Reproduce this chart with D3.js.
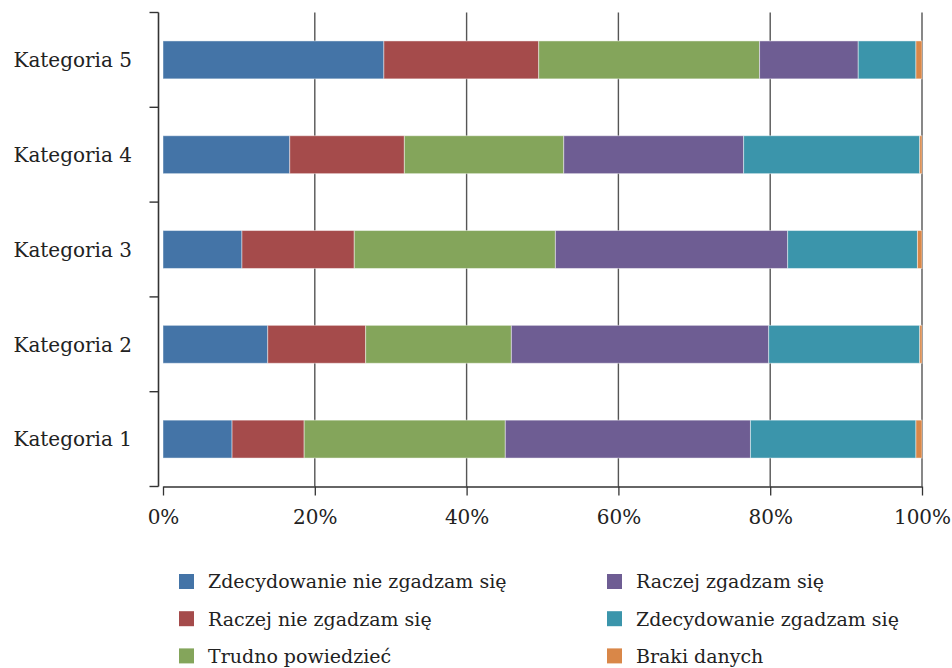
<!DOCTYPE html>
<html>
<head>
<meta charset="utf-8">
<script src="https://cdn.jsdelivr.net/npm/d3@7"></script>
<style>
  html, body { margin: 0; padding: 0; background: #fff; }
  svg { display: block; }
  text { font-family: "DejaVu Serif", serif; fill: #222; }
</style>
</head>
<body>
<svg id="chart" width="952" height="668"></svg>
<script>
// Categories, bottom to top
const categories = ["Kategoria 1", "Kategoria 2", "Kategoria 3", "Kategoria 4", "Kategoria 5"];

// Answer series (percent of responses per category)
const seriesNames = [
  "Zdecydowanie nie zgadzam się",
  "Raczej nie zgadzam się",
  "Trudno powiedzieć",
  "Raczej zgadzam się",
  "Zdecydowanie zgadzam się",
  "Braki danych"
];
const strongDisagree = [9.1, 13.8, 10.4, 16.7, 29.1];
const ratherDisagree = [9.5, 12.9, 14.8, 15.1, 20.4];
const hardToSay      = [26.5, 19.2, 26.5, 21.0, 29.1];
const ratherAgree    = [32.3, 33.9, 30.6, 23.7, 13.0];
const strongAgree    = [21.8, 19.9, 17.1, 23.2, 7.6];
const missing        = [0.8, 0.3, 0.6, 0.3, 0.8];

const xTicks = [0, 20, 40, 60, 80, 100];
const xTickLabels = ["0%", "20%", "40%", "60%", "80%", "100%"];

const colors = ["#4474a7", "#a54b4b", "#84a55b", "#6e5d93", "#3b95ab", "#d98748"];

const seriesValues = [strongDisagree, ratherDisagree, hardToSay, ratherAgree, strongAgree, missing];

// Table used by d3.stack
const rows = categories.map((c, i) => {
  const r = { category: c };
  seriesNames.forEach((s, k) => { r[s] = seriesValues[k][i]; });
  return r;
});

const svg = d3.select("#chart");

const x = d3.scaleLinear().domain([0, 100]).range([163, 922]);
const y = d3.scaleBand().domain(categories).range([486.5, 12.5]);
const bw = y.bandwidth();
const axisX = 158.5;

// Vertical gridlines
svg.append("g")
  .selectAll("line")
  .data(xTicks.slice(1))
  .join("line")
  .attr("x1", d => x(d)).attr("x2", d => x(d))
  .attr("y1", 12.5).attr("y2", 486.5)
  .attr("stroke", "#555").attr("stroke-width", 1.4);

// Stacked bars
const stack = d3.stack().keys(seriesNames);
const stacked = stack(rows);

svg.append("g")
  .selectAll("g")
  .data(stacked)
  .join("g")
  .attr("fill", (d, i) => colors[i])
  .selectAll("rect")
  .data(d => d)
  .join("rect")
  .attr("x", d => x(d[0]))
  .attr("width", d => x(d[1]) - x(d[0]))
  .attr("y", d => y(d.data.category) + bw * 0.3)
  .attr("height", bw * 0.4)
  .attr("stroke", "#fff")
  .attr("stroke-opacity", 0.45)
  .attr("stroke-width", 1);

// X axis
const xAxis = d3.axisBottom(x)
  .tickValues(xTicks)
  .tickFormat((d, i) => xTickLabels[i])
  .tickSize(9)
  .tickSizeOuter(0)
  .tickPadding(14);

const gx = svg.append("g")
  .attr("transform", "translate(0,486.5)")
  .call(xAxis);
gx.attr("font-family", null).attr("font-size", null);
gx.select(".domain").attr("stroke", "#333").attr("stroke-width", 1.3);
gx.selectAll(".tick line").attr("stroke", "#333").attr("stroke-width", 1.3);
gx.selectAll(".tick text")
  .attr("font-size", 20)
  .attr("fill", "#222");

// Y axis: line with ticks on category boundaries
const gy = svg.append("g");
gy.append("line")
  .attr("x1", axisX).attr("x2", axisX)
  .attr("y1", 12.5).attr("y2", 486.5)
  .attr("stroke", "#333").attr("stroke-width", 1.6);

const boundaries = categories.map(c => y(c)).concat([y(categories[0]) + bw]);
gy.selectAll("line.tick")
  .data(boundaries)
  .join("line")
  .attr("class", "tick")
  .attr("x1", axisX - 9).attr("x2", axisX)
  .attr("y1", d => d).attr("y2", d => d)
  .attr("stroke", "#333").attr("stroke-width", 1.4);

gy.selectAll("text")
  .data(categories)
  .join("text")
  .attr("x", 132)
  .attr("y", d => y(d) + bw / 2)
  .attr("dy", "0.36em")
  .attr("text-anchor", "end")
  .attr("font-size", 20)
  .text(d => d);

// Legend: two columns of three
const legend = svg.append("g");
const item = legend.selectAll("g")
  .data(seriesNames)
  .join("g")
  .attr("transform", (d, i) => {
    const col = Math.floor(i / 3), row = i % 3;
    return `translate(${col === 0 ? 179 : 607},${574 + row * 37.2})`;
  });
item.append("rect")
  .attr("width", 15).attr("height", 15)
  .attr("fill", (d, i) => colors[i]);
item.append("text")
  .attr("x", 29)
  .attr("y", 7.5)
  .attr("dy", "0.36em")
  .attr("font-size", 19)
  .text(d => d);
</script>
</body>
</html>
